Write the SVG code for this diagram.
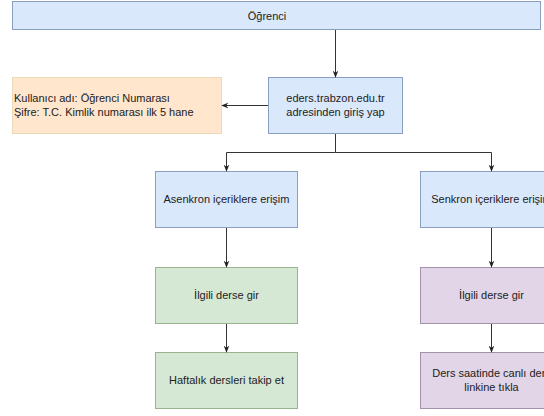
<svg xmlns="http://www.w3.org/2000/svg" width="544" height="416" viewBox="0 0 544 416">
<defs>
<style>
text{font-family:"Liberation Sans",Arial,sans-serif;font-size:11px;fill:#222}
.blue{fill:#dae8fc;stroke:#8a9fbf;stroke-width:1}
.green{fill:#d5e8d4;stroke:#98b48e;stroke-width:1}
.purple{fill:#e1d5e7;stroke:#a392ab;stroke-width:1}
.orange{fill:#ffe6cc;stroke:#ecd9b8;stroke-width:1}
.c{text-anchor:middle}
.edge{fill:none;stroke:#333;stroke-width:1}
</style>
<marker id="arr" viewBox="0 0 10 10" refX="9" refY="5" markerWidth="7" markerHeight="7" orient="auto" markerUnits="userSpaceOnUse">
<path d="M0,1 L10,5 L0,9 L3,5 Z" fill="#222"/>
</marker>
</defs>
<g id="ogrenci"><rect class="blue" x="12.5" y="1.5" width="528" height="28"/><text class="c" x="267" y="20" font-size="12">Öğrenci</text></g>
<g id="giris"><rect class="blue" x="268.5" y="77.5" width="134" height="56"/><text class="c" x="335.5" y="102">eders.trabzon.edu.tr</text><text class="c" x="335.5" y="116">adresinden giriş yap</text></g>
<g id="bilgi"><rect class="orange" x="12.5" y="77.5" width="209" height="56"/><text x="14" y="102">Kullanıcı adı: Öğrenci Numarası</text><text x="14" y="116">Şifre: T.C. Kimlik numarası ilk 5 hane</text></g>
<g id="asenkron"><rect class="blue" x="155.5" y="171.5" width="142" height="56"/><text class="c" x="226.5" y="203">Asenkron içeriklere erişim</text></g>
<g id="senkron"><rect class="blue" x="420.5" y="171.5" width="142" height="56"/><text class="c" x="491.5" y="203">Senkron içeriklere erişim</text></g>
<g id="ders1"><rect class="green" x="155.5" y="267.5" width="142" height="56"/><text class="c" x="226.5" y="299">İlgili derse gir</text></g>
<g id="ders2"><rect class="purple" x="420.5" y="267.5" width="142" height="56"/><text class="c" x="491.5" y="299">İlgili derse gir</text></g>
<g id="haftalik"><rect class="green" x="155.5" y="352.5" width="142" height="56"/><text class="c" x="226.5" y="384">Haftalık dersleri takip et</text></g>
<g id="canli"><rect class="purple" x="420.5" y="352.5" width="142" height="56"/><text class="c" x="491.5" y="377">Ders saatinde canlı ders</text><text class="c" x="491.5" y="391">linkine tıkla</text></g>
<g id="connectors">
<path class="edge" d="M335.5,30 V77" marker-end="url(#arr)"/>
<path class="edge" d="M268,105.5 H222" marker-end="url(#arr)"/>
<path class="edge" d="M335.5,134 V152.5 H226.5 V171" marker-end="url(#arr)"/>
<path class="edge" d="M335.5,152.5 H491.5 V171" marker-end="url(#arr)"/>
<path class="edge" d="M226.5,228 V267" marker-end="url(#arr)"/>
<path class="edge" d="M491.5,228 V267" marker-end="url(#arr)"/>
<path class="edge" d="M226.5,324 V352" marker-end="url(#arr)"/>
<path class="edge" d="M491.5,324 V352" marker-end="url(#arr)"/>
</g>
</svg>
